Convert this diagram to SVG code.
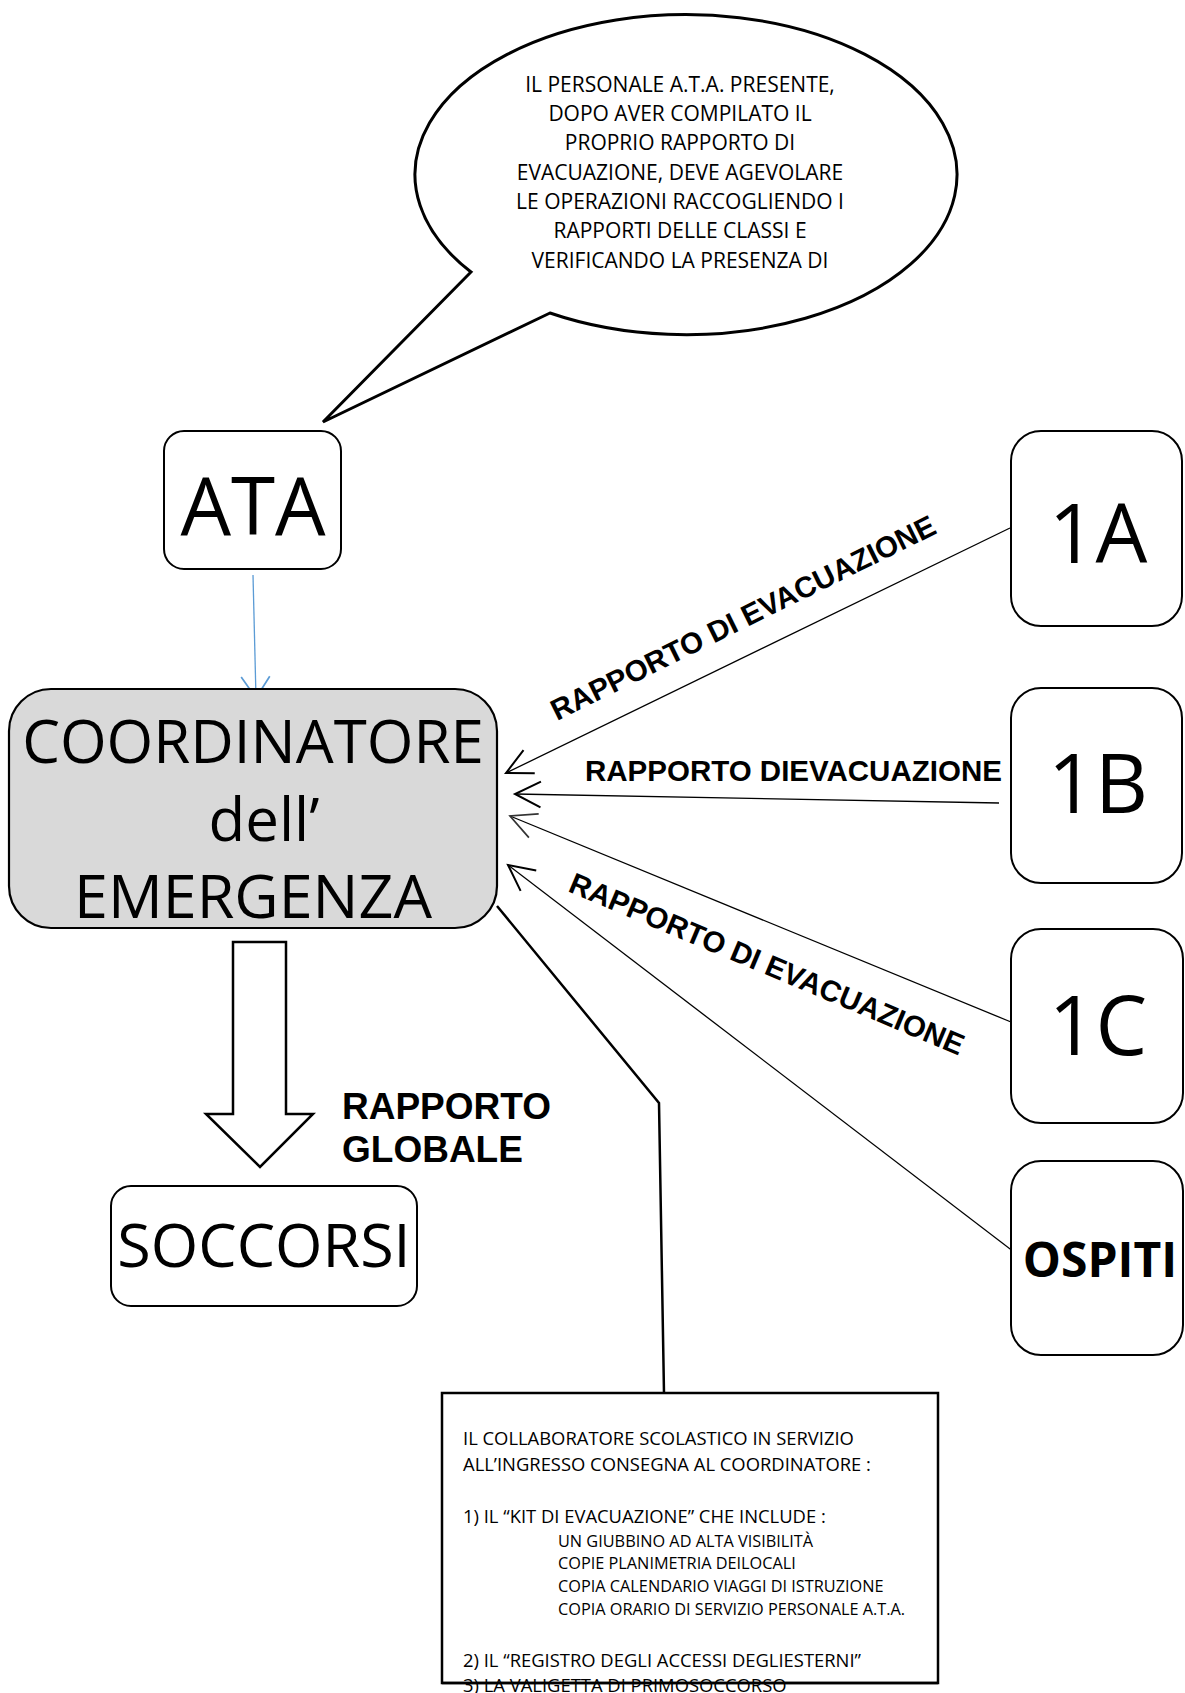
<svg xmlns="http://www.w3.org/2000/svg" width="1185" height="1693" viewBox="0 0 1185 1693">
<style>
.box{fill:#fff;stroke:#000;stroke-width:2}
.big{font-family:"Open Sans","Noto Sans",sans-serif;fill:#000;text-anchor:middle}
.lbl{font-family:"Liberation Sans",Arial,sans-serif;font-weight:bold;font-size:29.5px;fill:#000}
.glob{font-family:"Liberation Sans",Arial,sans-serif;font-weight:bold;font-size:37px;fill:#000}
.txt{font-family:"Open Sans","Noto Sans",sans-serif;fill:#000}
.conn{fill:none;stroke:#000;stroke-width:1.3}
</style>
<defs>
<marker id="ahBlack" markerUnits="userSpaceOnUse" markerWidth="40" markerHeight="40" refX="0" refY="0" viewBox="-22 -14 26 28" orient="auto">
<path d="M -18 -9 L 0 0 L -18 9" fill="none" stroke="#000" stroke-width="1.4"/>
</marker>
<marker id="ahGray" markerUnits="userSpaceOnUse" markerWidth="40" markerHeight="40" refX="0" refY="0" viewBox="-22 -14 26 28" orient="auto">
<path d="M -18 -9 L 0 0 L -18 9" fill="none" stroke="#333" stroke-width="1.2"/>
</marker>
<marker id="ahBlue" markerUnits="userSpaceOnUse" markerWidth="40" markerHeight="40" refX="0" refY="0" viewBox="-22 -14 26 28" orient="auto">
<path d="M -15 -10 L 0 0 L -15 10" fill="none" stroke="#5b9bd5" stroke-width="1.2"/>
</marker>
</defs>
<rect width="1185" height="1693" fill="#fff"/>

<g id="bubble">
<path d="M 471 272 A 271 160 0 1 1 550 313 L 323 422 Z" fill="#fff" stroke="#000" stroke-width="3" stroke-linejoin="miter"/>
<g class="txt" font-size="21" text-anchor="middle">
<text x="680" y="92">IL PERSONALE A.T.A. PRESENTE,</text>
<text x="680" y="121">DOPO AVER COMPILATO IL</text>
<text x="680" y="150">PROPRIO RAPPORTO DI</text>
<text x="680" y="180">EVACUAZIONE, DEVE AGEVOLARE</text>
<text x="680" y="209">LE OPERAZIONI RACCOGLIENDO I</text>
<text x="680" y="238">RAPPORTI DELLE CLASSI E</text>
<text x="680" y="268">VERIFICANDO LA PRESENZA DI</text>
</g>
</g>

<g id="connectors">
<line x1="253" y1="575" x2="256" y2="698" fill="none" stroke="#5b9bd5" stroke-width="1.3" marker-end="url(#ahBlue)"/>
<line class="conn" x1="1010" y1="528" x2="506" y2="773" marker-end="url(#ahBlack)"/>
<line class="conn" x1="999" y1="803" x2="515" y2="794" stroke-width="2" marker-end="url(#ahBlack)"/>
<line class="conn" x1="1011" y1="1022" x2="510" y2="816" stroke="#555" stroke-width="1" marker-end="url(#ahGray)"/>
<line class="conn" x1="1018" y1="1255" x2="508" y2="865" marker-end="url(#ahBlack)"/>
<polyline points="497,906 659,1103 664,1393" fill="none" stroke="#000" stroke-width="2.5"/>
<polygon points="233,942 286,942 286,1114 313,1114 260,1167 206,1114 233,1114" fill="#fff" stroke="#000" stroke-width="2.5"/>
<text class="lbl" x="557" y="721" transform="rotate(-26.3 557 721)">RAPPORTO DI EVACUAZIONE</text>
<text class="lbl" x="585" y="781">RAPPORTO DIEVACUAZIONE</text>
<text class="lbl" x="567" y="891" transform="rotate(22.8 567 891)">RAPPORTO DI EVACUAZIONE</text>
<text class="glob" x="342" y="1119">RAPPORTO</text>
<text class="glob" x="342" y="1162">GLOBALE</text>
</g>

<g id="ata">
<rect class="box" x="164" y="431" width="177" height="138" rx="20"/>
<text class="big" x="253" y="535" font-size="80">ATA</text>
</g>

<g id="coordinatore">
<rect x="9" y="689" width="488" height="239" rx="42" fill="#d9d9d9" stroke="#000" stroke-width="2.2"/>
<text class="big" x="253" y="763" font-size="60">COORDINATORE</text>
<text class="big" x="264" y="841" font-size="60">dell’</text>
<text class="big" x="253" y="918" font-size="61">EMERGENZA</text>
</g>

<g id="soccorsi">
<rect class="box" x="111" y="1186" width="306" height="120" rx="20"/>
<text class="big" x="264" y="1267" font-size="61">SOCCORSI</text>
</g>

<g id="n1A">
<rect class="box" x="1011" y="431" width="171" height="195" rx="30"/>
<text class="big" x="1098" y="563" font-size="82">1A</text>
</g>
<g id="n1B">
<rect class="box" x="1011" y="688" width="171" height="195" rx="30"/>
<text class="big" x="1098" y="813" font-size="82">1B</text>
</g>
<g id="n1C">
<rect class="box" x="1011" y="929" width="172" height="194" rx="30"/>
<text class="big" x="1098" y="1055" font-size="82">1C</text>
</g>
<g id="ospiti">
<rect class="box" x="1011" y="1161" width="172" height="194" rx="30"/>
<text class="big" x="1100" y="1277" font-size="48" font-weight="bold">OSPITI</text>
</g>

<g id="nota">
<rect x="442" y="1393" width="496" height="290" fill="#fff" stroke="#000" stroke-width="2.5"/>
<g class="txt" font-size="18.4">
<text x="463" y="1445">IL COLLABORATORE SCOLASTICO IN SERVIZIO</text>
<text x="463" y="1471">ALL’INGRESSO CONSEGNA AL COORDINATORE :</text>
<text x="463" y="1523">1) IL “KIT DI EVACUAZIONE” CHE INCLUDE :</text>
<text x="463" y="1667">2) IL “REGISTRO DEGLI ACCESSI DEGLIESTERNI”</text>
<text x="463" y="1692">3) LA VALIGETTA DI PRIMOSOCCORSO</text>
</g>
<g class="txt" font-size="16.3">
<text x="558" y="1547">UN GIUBBINO AD ALTA VISIBILITÀ</text>
<text x="558" y="1569">COPIE PLANIMETRIA DEILOCALI</text>
<text x="558" y="1592">COPIA CALENDARIO VIAGGI DI ISTRUZIONE</text>
<text x="558" y="1615">COPIA ORARIO DI SERVIZIO PERSONALE A.T.A.</text>
</g>
<line x1="442" y1="1683" x2="938" y2="1683" stroke="#000" stroke-width="2.5"/>
</g>
</svg>
